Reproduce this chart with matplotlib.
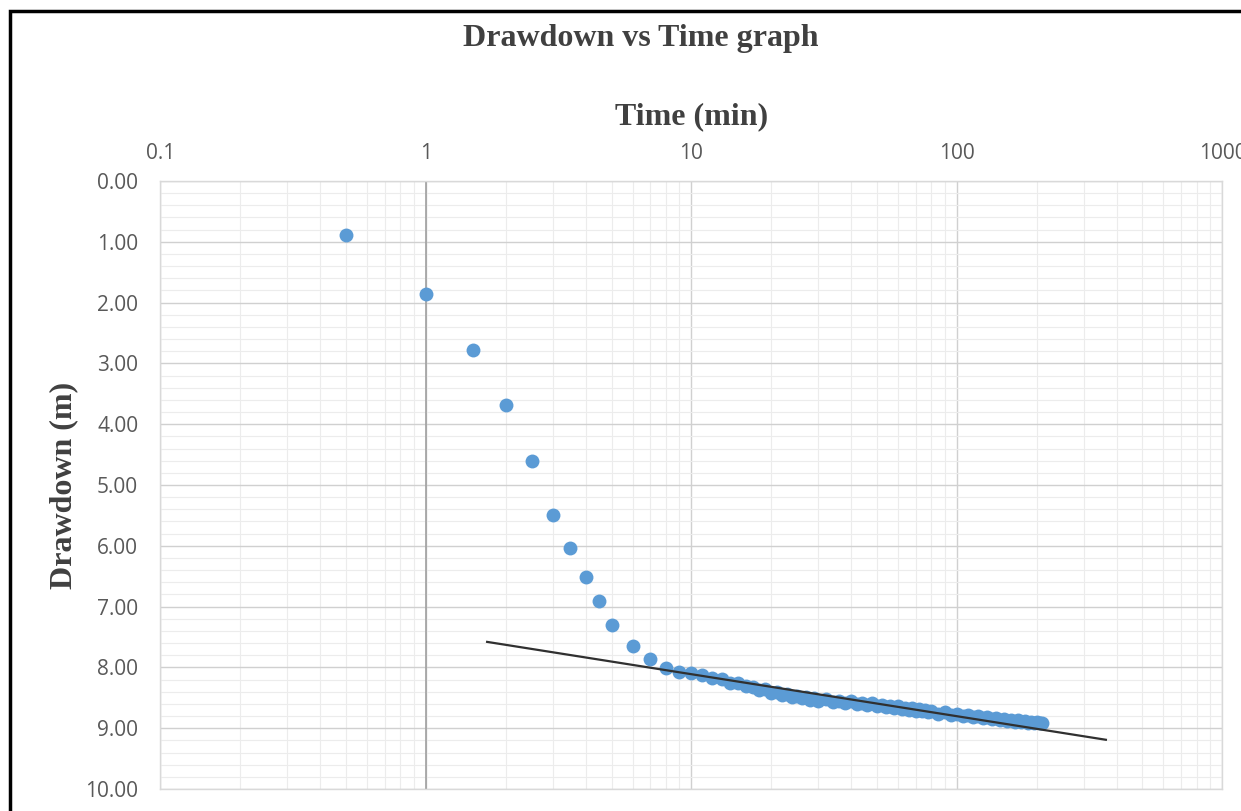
import matplotlib.pyplot as plt
from matplotlib.patches import Rectangle
from matplotlib.ticker import LogLocator, FixedLocator, FormatStrFormatter, NullFormatter

# datos
tiempo = [0.5, 1, 1.5, 2, 2.5, 3, 3.5, 4, 4.5, 5, 6, 7, 8, 9,
          10, 11, 12, 13, 14, 15, 16, 17, 18, 19, 20,
          21, 22, 23, 24, 25, 26, 27, 28, 29, 30,
          32, 34, 36, 38, 40, 42, 44, 46, 48, 50,
          52, 54, 56, 58, 60, 62, 64, 66, 68, 70,
          72, 74, 76, 78, 80, 85, 90, 95, 100,
          105, 110, 115, 120, 125, 130, 135, 140, 145, 150, 155, 160,
          165, 170, 175, 180, 185, 190, 195, 200, 205, 210]
abatimiento = [0.89, 1.86, 2.78, 3.68, 4.61, 5.49, 6.04, 6.51, 6.91, 7.30, 7.65, 7.86, 8.01, 8.07,
               8.09, 8.13, 8.18, 8.19, 8.25, 8.26, 8.31, 8.32, 8.37, 8.36, 8.42,
               8.41, 8.46, 8.44, 8.49, 8.47, 8.51, 8.49, 8.53, 8.51, 8.55,
               8.52, 8.57, 8.55, 8.59, 8.56, 8.60, 8.58, 8.62, 8.59, 8.63,
               8.61, 8.65, 8.63, 8.67, 8.64, 8.68, 8.66, 8.70, 8.67, 8.71,
               8.69, 8.72, 8.70, 8.74, 8.72, 8.76, 8.74, 8.78, 8.77,
               8.80, 8.78, 8.82, 8.80, 8.84, 8.82, 8.85, 8.83, 8.87, 8.85, 8.88, 8.86,
               8.89, 8.87, 8.90, 8.88, 8.91, 8.89, 8.92, 8.90, 8.92, 8.91]

# linea de tendencia (extremos)
lineaT = [1.7, 364]
lineaS = [7.58, 9.19]

fig = plt.figure(figsize=(12.41, 8.11), dpi=100)
ax = fig.add_axes([0.1293, 0.0271, 0.8557, 0.7497])

ax.set_xscale('log')
ax.set_xlim(0.1, 1000)
ax.set_ylim(10, 0)

ax.xaxis.set_minor_locator(LogLocator(base=10, subs=range(2, 10), numticks=50))
ax.xaxis.set_minor_formatter(NullFormatter())
ax.set_xticks([0.1, 1, 10, 100, 1000])
ax.set_xticklabels(['0.1', '1', '10', '100', '1000'])
ax.set_yticks([0, 1, 2, 3, 4, 5, 6, 7, 8, 9, 10])
ax.yaxis.set_major_formatter(FormatStrFormatter('%.2f'))
ax.yaxis.set_minor_locator(FixedLocator([i * 0.2 for i in range(51)]))

ax.xaxis.tick_top()
ax.xaxis.set_label_position('top')
ax.tick_params(which='both', length=0)
ax.tick_params(axis='x', labelsize=15, labelcolor='#595959', pad=12)
ax.tick_params(axis='y', labelsize=15, labelcolor='#595959', pad=16)
for lbl in ax.get_xticklabels() + ax.get_yticklabels():
    lbl.set_family('Open Sans')

ax.grid(True, which='major', color='#d0d0d0', linewidth=1.0)
ax.grid(True, which='minor', color='#ececec', linewidth=0.8)
ax.set_axisbelow(True)
for s in ax.spines.values():
    s.set_color('#d9d9d9')
    s.set_linewidth(1.0)

# eje vertical cruzando en 1
ax.axvline(1, color='#a0a0a0', linewidth=1.2, zorder=1)

ax.plot(tiempo, abatimiento, 'o', color='#5b9bd5', markersize=10, markeredgewidth=0, zorder=3)
ax.plot(lineaT, lineaS, color='#303030', linewidth=1.6, zorder=4)

ax.set_xlabel('Time (min)', fontsize=23, fontweight='bold', family='Liberation Serif',
              color='#404040', labelpad=14)
ax.set_ylabel('Drawdown (m)', fontsize=23, fontweight='bold', family='Liberation Serif',
              color='#404040', labelpad=5)

fig.text(0.516, 0.953, 'Drawdown vs Time graph', ha='center', va='center', fontsize=23,
         fontweight='bold', family='Liberation Serif', color='#404040')

# marco negro de la figura
fig.patches.append(Rectangle((0.008, -0.05), 1.05, 1.037, transform=fig.transFigure,
                             fill=False, edgecolor='black', linewidth=2.5))

fig.savefig('out.png', dpi=100)
